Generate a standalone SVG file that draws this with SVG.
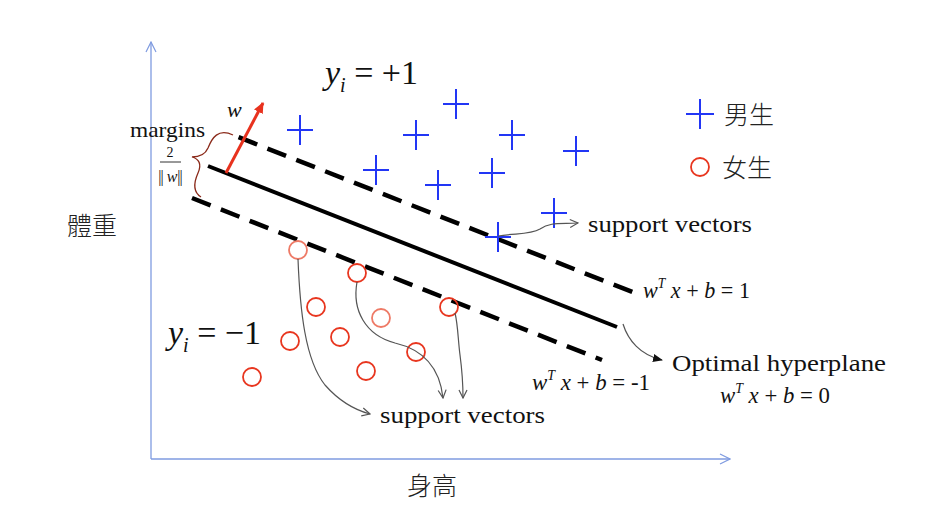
<svg xmlns="http://www.w3.org/2000/svg" width="936" height="518" viewBox="0 0 936 518">
<style>
.ser{font-family:"Liberation Serif","Times New Roman",serif;fill:#111}
.it{font-style:italic}
.cjk{font-family:"Noto Sans CJK TC","Noto Sans CJK SC",sans-serif;fill:#222;font-weight:300}
.cross{stroke:#2236f5;stroke-width:2;fill:none}
.circ{stroke:#e8361f;stroke-width:1.8;fill:none}
.pale{stroke:#ee7a66}
.conn{stroke:#555;stroke-width:1.2;fill:none}
.dash{stroke:#000;stroke-width:4.5;stroke-dasharray:20 11;fill:none}
</style>
<defs>
<marker id="open" viewBox="0 0 10 10" refX="9" refY="5" markerWidth="10" markerHeight="10" markerUnits="userSpaceOnUse" orient="auto">
<path d="M1,1 L9,5 L1,9" fill="none" stroke="#555" stroke-width="1.2"/>
</marker>
<marker id="axis" viewBox="0 0 12 12" refX="11" refY="6" markerWidth="12" markerHeight="12" markerUnits="userSpaceOnUse" orient="auto">
<path d="M1,1 L11,6 L1,11" fill="none" stroke="#7f9be0" stroke-width="1.2"/>
</marker>
<marker id="fill" viewBox="0 0 10 10" refX="9" refY="5" markerWidth="10" markerHeight="10" markerUnits="userSpaceOnUse" orient="auto">
<path d="M0,1 L10,5 L0,9 Z" fill="#111"/>
</marker>
<marker id="red" viewBox="0 0 10 10" refX="9" refY="5" markerWidth="11" markerHeight="11" markerUnits="userSpaceOnUse" orient="auto">
<path d="M0,0.5 L10,5 L0,9.5 Z" fill="#e8321e"/>
</marker>
</defs>

<g id="axes">
<line x1="151" y1="459" x2="151" y2="42" stroke="#7f9be0" stroke-width="1.3" marker-end="url(#axis)"/>
<line x1="151" y1="459" x2="730" y2="459" stroke="#7f9be0" stroke-width="1.3" marker-end="url(#axis)"/>
<text class="cjk" x="92" y="235" font-size="25" text-anchor="middle">體重</text>
<text class="cjk" x="432" y="495" font-size="25" text-anchor="middle">身高</text>
</g>

<g id="hyperplanes">
<line x1="208" y1="166" x2="617" y2="327" stroke="#000" stroke-width="4"/>
<line class="dash" x1="233" y1="135" x2="640" y2="295" stroke-dashoffset="-6"/>
<line class="dash" x1="192" y1="198" x2="602" y2="360"/>
</g>

<g id="w-vector">
<line x1="226" y1="173" x2="263" y2="103" stroke="#e8321e" stroke-width="3" marker-end="url(#red)"/>
<text class="ser it" x="227" y="117" font-size="22">w</text>
</g>

<g id="margin">
<path d="M233,135 C218,128 212,138 208,148 C205,155 198,157 192,157 C199,159 202,164 198,173 C194,182 193,192 201,197" fill="none" stroke="#8b2a1a" stroke-width="1.3"/>
<text class="ser" x="130" y="137" font-size="21" textLength="75" lengthAdjust="spacingAndGlyphs">margins</text>
<text class="ser" x="170" y="157" font-size="14" text-anchor="middle">2</text>
<line x1="160" y1="162" x2="181" y2="162" stroke="#333" stroke-width="1"/>
<text class="ser" x="170" y="182" font-size="16" text-anchor="middle" fill="#555" letter-spacing="-1">||<tspan font-style="italic" letter-spacing="0"> w</tspan>||</text>
</g>

<g id="labels">
<text class="ser" x="325" y="84" font-size="34"><tspan font-style="italic">y</tspan><tspan font-style="italic" font-size="20" dy="8">i</tspan><tspan dy="-8"> = +1</tspan></text>
<text class="ser" x="168" y="344" font-size="34"><tspan font-style="italic">y</tspan><tspan font-style="italic" font-size="20" dy="8">i</tspan><tspan dy="-8"> = −1</tspan></text>
<text class="ser" x="643" y="298" font-size="23" textLength="107" lengthAdjust="spacingAndGlyphs"><tspan font-style="italic">w</tspan><tspan font-style="italic" font-size="14" dy="-10">T</tspan><tspan font-style="italic" dy="10"> x</tspan> + <tspan font-style="italic">b</tspan> = 1</text>
<text class="ser" x="532" y="390" font-size="23" textLength="118" lengthAdjust="spacingAndGlyphs"><tspan font-style="italic">w</tspan><tspan font-style="italic" font-size="14" dy="-10">T</tspan><tspan font-style="italic" dy="10"> x</tspan> + <tspan font-style="italic">b</tspan> = -1</text>
<text class="ser" x="720" y="403" font-size="23" textLength="110" lengthAdjust="spacingAndGlyphs"><tspan font-style="italic">w</tspan><tspan font-style="italic" font-size="14" dy="-10">T</tspan><tspan font-style="italic" dy="10"> x</tspan> + <tspan font-style="italic">b</tspan> = 0</text>
<text class="ser" x="672" y="371" font-size="24" textLength="214" lengthAdjust="spacingAndGlyphs">Optimal hyperplane</text>
<text class="ser" x="588" y="232" font-size="23" textLength="164" lengthAdjust="spacingAndGlyphs">support vectors</text>
<text class="ser" x="380" y="423" font-size="23" textLength="165" lengthAdjust="spacingAndGlyphs">support vectors</text>
</g>

<g id="men">
<path class="cross" d="M287,130h26M300,115v30"/>
<path class="cross" d="M443,104h26M456,89v30"/>
<path class="cross" d="M403,135h26M416,120v30"/>
<path class="cross" d="M499,135h26M512,120v30"/>
<path class="cross" d="M563,151h26M576,136v30"/>
<path class="cross" d="M363,170h26M376,155v30"/>
<path class="cross" d="M425,185h26M438,170v30"/>
<path class="cross" d="M479,173h26M492,158v30"/>
<path class="cross" d="M541,213h26M554,198v30"/>
<path class="cross" d="M485,237h26M498,222v30"/>
</g>

<g id="women">
<circle class="circ pale" cx="298" cy="250" r="9"/>
<circle class="circ" cx="357" cy="273" r="9"/>
<circle class="circ" cx="316" cy="307" r="9"/>
<circle class="circ pale" cx="381" cy="318" r="9"/>
<circle class="circ" cx="290" cy="341" r="9"/>
<circle class="circ" cx="340" cy="337" r="9"/>
<circle class="circ" cx="449" cy="307" r="9"/>
<circle class="circ" cx="416" cy="352" r="9"/>
<circle class="circ" cx="366" cy="371" r="9"/>
<circle class="circ" cx="252" cy="377" r="9"/>
</g>

<g id="legend">
<path class="cross" d="M686,114h28M700,99v30"/>
<text class="cjk" x="724" y="124" font-size="25">男生</text>
<circle class="circ" cx="700" cy="167" r="9"/>
<text class="cjk" x="722" y="177" font-size="25">女生</text>
</g>

<g id="connectors">
<path class="conn" d="M298,259 C300,310 305,360 325,385 C340,402 355,410 370,414" marker-end="url(#open)"/>
<path class="conn" d="M357,282 C352,310 365,335 395,343 C425,350 440,370 443,398" marker-end="url(#open)"/>
<path class="conn" d="M455,313 C458,325 458,340 460,355 C462,370 463,385 463,398" marker-end="url(#open)"/>
<path class="conn" d="M498,236 C515,233 530,235 540,229 C550,222 560,224 578,223" marker-end="url(#open)"/>
<path class="conn" d="M623,324 C628,340 640,355 662,360" stroke="#333" marker-end="url(#fill)"/>
</g>
</svg>
